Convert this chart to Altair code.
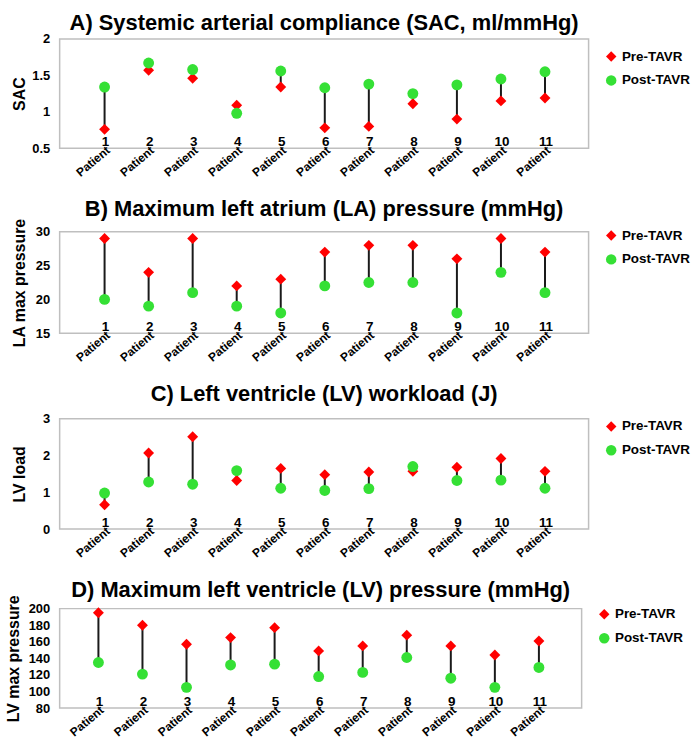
import altair as alt
import pandas as pd

patients = list(range(1, 12))
series_names = ["Pre-TAVR", "Post-TAVR"]

sac_pre = [0.76, 1.57, 1.46, 1.09, 1.34, 0.78, 0.80, 1.11, 0.90, 1.15, 1.19]
sac_post = [1.34, 1.67, 1.58, 0.98, 1.56, 1.33, 1.38, 1.25, 1.37, 1.45, 1.55]
la_pre = [29, 24, 29, 22, 23, 27, 28, 28, 26, 29, 27]
la_post = [20, 19, 21, 19, 18, 22, 22.5, 22.5, 18, 24, 21]
lvw_pre = [0.66, 2.07, 2.51, 1.32, 1.65, 1.48, 1.55, 1.57, 1.68, 1.92, 1.57]
lvw_post = [0.98, 1.28, 1.22, 1.59, 1.11, 1.05, 1.10, 1.70, 1.32, 1.33, 1.11]
lvp_pre = [195, 180, 157, 165, 177, 149, 155, 168, 155, 144, 161]
lvp_post = [135, 121, 105, 132, 133, 118, 123, 141, 116, 105, 129]

FONT = "Liberation Sans, Arial, sans-serif"
TFONT = "Liberation Sans Narrow, Arial Narrow, Liberation Sans, sans-serif"
RED = "#ff0000"
GREEN = "#35e035"


def panel(title, ytitle, pre, post, ydomain, yticks, width, height, xdomain,
          extent, title_offset, legend_y):
    wide = pd.DataFrame({"patient": patients, "pre": pre, "post": post})
    long = pd.DataFrame({
        "patient": patients * 2,
        "series": [series_names[0]] * len(patients) + [series_names[1]] * len(patients),
        "value": list(pre) + list(post),
        "order": [0] * len(patients) + [1] * len(patients),
    })
    xaxis = alt.Axis(values=patients, labelExpr="'Patient'", labelAngle=-40,
                     labelAlign="right", labelBaseline="top", labelFontSize=12,
                     labelFontWeight="bold", labelFont=FONT, labelPadding=-4,
                     ticks=False, domain=False, grid=False, title=None,
                     labelOverlap=False, labelFlush=False, labelBound=False,
                     labelColor="black")
    yaxis = alt.Axis(values=yticks, labelExpr="'' + datum.value", title=ytitle,
                     labelFontSize=13, labelFontWeight="bold", labelFont=FONT,
                     labelPadding=10, titleFontSize=16, titleFont=FONT,
                     titleFontWeight="bold", titlePadding=2, minExtent=extent,
                     maxExtent=extent, ticks=False, domain=False, grid=False,
                     labelColor="black", titleColor="black")
    xs = alt.Scale(domain=xdomain, nice=False, zero=False)
    ys = alt.Scale(domain=ydomain, nice=False, zero=False)
    leg = alt.Legend(title=None, orient="none", legendX=width + 16, legendY=legend_y,
                     labelFontSize=13.5, labelFontWeight="bold", labelFont=FONT,
                     symbolSize=110, rowPadding=9, labelOffset=4, padding=0,
                     labelColor="black")

    rules = alt.Chart(wide).mark_rule(color="#1a1a1a", strokeWidth=2).encode(
        x=alt.X("patient:Q", scale=xs, axis=xaxis),
        y=alt.Y("pre:Q", scale=ys, axis=yaxis),
        y2="post:Q",
    )
    pts = alt.Chart(long).mark_point(filled=True, opacity=1, size=120).encode(
        x=alt.X("patient:Q", scale=xs, axis=xaxis),
        y=alt.Y("value:Q", scale=ys, axis=yaxis),
        color=alt.Color("series:N",
                        scale=alt.Scale(domain=series_names, range=[RED, GREEN]),
                        legend=leg),
        shape=alt.Shape("series:N",
                        scale=alt.Scale(domain=series_names, range=["diamond", "circle"]),
                        legend=leg),
        order="order:Q",
    )
    nums = alt.Chart(wide).mark_text(baseline="alphabetic", dy=-2, dx=1, fontSize=13.5,
                                     fontWeight="bold", font=FONT, color="black").encode(
        x=alt.X("patient:Q", scale=xs, axis=xaxis),
        y=alt.value(height),
        text=alt.Text("patient:Q"),
    )
    return alt.layer(rules, pts, nums).properties(
        width=width, height=height,
        title=alt.TitleParams(text=title, font=TFONT, fontSize=22, fontWeight="bold",
                              anchor="middle", frame="group", offset=title_offset,
                              color="black"),
    )


A = panel("A) Systemic arterial compliance (SAC, ml/mmHg)", "SAC", sac_pre, sac_post,
          [0.5, 2], [0.5, 1, 1.5, 2], 532, 110, [-0.02, 11.99], 30, -2, 11)
B = panel("B) Maximum left atrium (LA) pressure (mmHg)", "LA max pressure", la_pre, la_post,
          [15, 30], [15, 20, 25, 30], 532, 102, [-0.02, 11.99], 30, -3, -3)
C = panel("C) Left ventricle (LV) workload (J)", "LV load", lvw_pre, lvw_post,
          [0, 3], [0, 1, 2, 3], 532, 111, [-0.02, 11.99], 30, 7, 1)
D = panel("D) Maximum left ventricle (LV) pressure (mmHg)", "LV max pressure", lvp_pre, lvp_post,
          [80, 200], [80, 100, 120, 140, 160, 180, 200], 525, 100, [0.12, 11.97], 36, -7, -1)

chart = alt.vconcat(A, B, C, D, spacing=18).resolve_scale(
    x="independent", y="independent", color="independent", shape="independent"
).configure_view(stroke="#bfbfbf", strokeWidth=1.5).properties(
    padding={"left": 5, "top": 9, "right": 0, "bottom": 0}
)

chart.save("out.html", embed_options={"renderer": "svg", "actions": False})
